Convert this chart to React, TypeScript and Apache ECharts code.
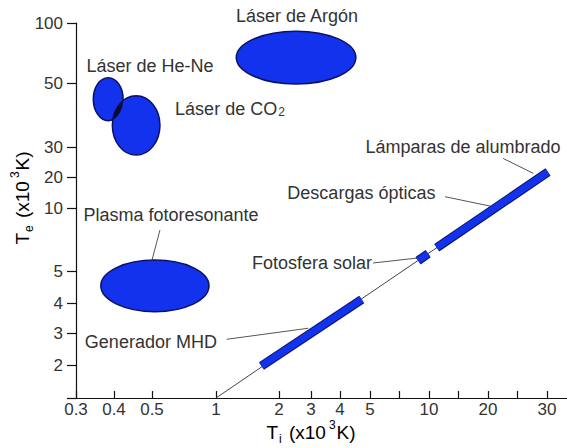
import { useEffect, useRef } from 'react';
import * as echarts from 'echarts';

// Axis ticks (real values) and their labels
const xTickValues = [0.3, 0.4, 0.5, 1, 2, 3, 4, 5, 10, 20, 30];
const xTickLabels = ['0.3', '0.4', '0.5', '1', '2', '3', '4', '5', '10', '20', '30'];
const xMinorTickValues = [7.05, 14.1, 24.5];
const yTickValues = [1, 2, 3, 4, 5, 10, 20, 30, 50, 100];
const yTickLabels = ['', '2', '3', '4', '5', '10', '20', '30', '50', '100'];

// The figure's axes are hand-spaced (not a true log scale): axis units of each tick value
const xScaleUnits = [0, 38, 76, 140, 203, 235, 264, 294, 353, 412, 471];
const xScaleMax = 491;
const yScaleUnits = [0, 33, 65, 95, 127, 190, 221, 251, 315, 375];
const yScaleMax = 375;

// Ellipses: [Ti min, Ti max], [Te min, Te max]  (x10^3 K)
const ellipseNames = ['Láser de Argón', 'Láser de He-Ne', 'Láser de CO2', 'Plasma fotoresonante'];
const ellipseTi = [[1.25, 4.5], [0.342, 0.422], [0.395, 0.545], [0.362, 0.927]];
const ellipseTe = [[49.6, 91], [37, 53.2], [26.9, 45.2], [3.68, 5.64]];

// Te = f(Ti) diagonal and thick bars along it
const lineTi = [1, 30.2];
const lineTe = [1, 21.4];
const barNames = ['Generador MHD', 'Fotosfera solar', 'Descargas / Lámparas'];
const barTi = [[1.65, 4.7], [8.8, 9.9], [10.95, 30.2]];
const barTe = [[1.96, 4.1], [5.6, 6.05], [6.46, 21.4]];

// Annotations
const noteTexts = [
  'Láser de Argón',
  'Láser de He-Ne',
  'Láser de CO{s|2}',
  'Plasma fotoresonante',
  'Fotosfera solar',
  'Descargas ópticas',
  'Lámparas de alumbrado',
  'Generador MHD',
];
const noteTi = [2.51, 0.494, 1.166, 0.614, 5.12, 4.69, 14.9, 1.01];
const noteTe = [108, 60.9, 40.6, 9.26, 5.46, 14.1, 30, 2.69];
const noteAlign = ['center', 'center', 'center', 'center', 'right', 'center', 'center', 'right'];

// Leader lines: [from, to]
const leaderTi = [[0.545, 0.5], [5.18, 8.79], [12.07, 20.28], [22.2, 27.3], [1.125, 2.9]];
const leaderTe = [[7.85, 5.64], [5.46, 5.77], [12.87, 10.45], [25.7, 21.0], [2.77, 3.14]];

const BLUE = '#1232ee';
const NAVY = '#0a1260';
const TEXT = '#333333';
const FONT = '"Liberation Sans", Arial, sans-serif';

function warp(v: number, vals: number[], units: number[]): number {
  let i = 0;
  while (i < vals.length - 2 && v > vals[i + 1]) i++;
  const a = Math.log(vals[i]);
  const b = Math.log(vals[i + 1]);
  return units[i] + ((Math.log(v) - a) / (b - a)) * (units[i + 1] - units[i]);
}
const wx = (v: number) => warp(v, xTickValues, xScaleUnits);
const wy = (v: number) => warp(v, yTickValues, yScaleUnits);

function labelFor(val: number, values: number[], labels: string[], w: (v: number) => number) {
  for (let i = 0; i < values.length; i++) {
    if (Math.abs(w(values[i]) - val) < 0.5) return labels[i];
  }
  return '';
}

export default function App() {
  const ref = useRef<HTMLDivElement>(null);
  useEffect(() => {
    if (!ref.current) return;
    const chart = echarts.init(ref.current, undefined, { renderer: 'svg' });
    const titleRich = {
      b: { fontSize: 19, fontFamily: FONT, color: TEXT, lineHeight: 26 },
      s: { fontSize: 12, fontFamily: FONT, color: TEXT, lineHeight: 12, verticalAlign: 'bottom', padding: [0, 2, 0, 1] },
      p: { fontSize: 12, fontFamily: FONT, color: TEXT, lineHeight: 12, verticalAlign: 'top', padding: [0, 1, 0, 3] },
    };
    const ellipseShape = (api: any, k: number) => {
      const a = api.coord([wx(ellipseTi[k][0]), wy(ellipseTe[k][0])]);
      const b = api.coord([wx(ellipseTi[k][1]), wy(ellipseTe[k][1])]);
      return {
        cx: (a[0] + b[0]) / 2,
        cy: (a[1] + b[1]) / 2,
        rx: Math.abs(b[0] - a[0]) / 2,
        ry: Math.abs(b[1] - a[1]) / 2,
      };
    };
    const option: any = {
      animation: false,
      grid: { left: 76, right: 0, top: 23, bottom: 50, containLabel: false },
      xAxis: {
        type: 'value',
        min: 0,
        max: xScaleMax,
        axisLine: { show: true, lineStyle: { color: '#111', width: 1.2 } },
        axisTick: {
          show: true,
          inside: true,
          length: 7,
          lineStyle: { color: '#111', width: 1.2 },
          customValues: [...xTickValues, ...xMinorTickValues].map(wx),
        },
        axisLabel: {
          show: true,
          margin: 3,
          fontSize: 17,
          fontFamily: FONT,
          color: TEXT,
          customValues: xTickValues.map(wx),
          formatter: (val: number) => labelFor(val, xTickValues, xTickLabels, wx),
        },
        splitLine: { show: false },
      },
      yAxis: {
        type: 'value',
        min: 0,
        max: yScaleMax,
        axisLine: { show: true, lineStyle: { color: '#111', width: 1.2 } },
        axisTick: {
          show: true,
          inside: false,
          length: 9,
          lineStyle: { color: '#111', width: 1.2 },
          customValues: yTickValues.map(wy),
        },
        axisLabel: {
          show: true,
          margin: 13,
          fontSize: 17,
          fontFamily: FONT,
          color: TEXT,
          customValues: yTickValues.map(wy),
          formatter: (val: number) => labelFor(val, yTickValues, yTickLabels, wy),
        },
        splitLine: { show: false },
      },
      graphic: [
        {
          type: 'text',
          x: 311,
          y: 432,
          style: {
            text: '{b|T}{s|i}{b| (x10}{p|3}{b|K)}',
            rich: titleRich,
            align: 'center',
            verticalAlign: 'middle',
            textAlign: 'center',
            textVerticalAlign: 'middle',
          },
        },
        {
          type: 'text',
          x: 22,
          y: 198,
          rotation: Math.PI / 2,
          style: {
            text: '{b|T}{s|e}{b| (x10}{p|3}{b|K)}',
            rich: titleRich,
            align: 'center',
            verticalAlign: 'middle',
            textAlign: 'center',
            textVerticalAlign: 'middle',
          },
        },
      ],
      series: [
        {
          name: 'diagonal',
          type: 'line',
          data: lineTi.map((t, i) => [wx(t), wy(lineTe[i])]),
          symbol: 'none',
          lineStyle: { color: '#444', width: 1 },
          silent: true,
          z: 1,
        },
        {
          name: 'leaders',
          type: 'custom',
          coordinateSystem: 'cartesian2d',
          clip: false,
          silent: true,
          z: 2,
          data: leaderTi.map((t, i) => [wx(t[0]), wy(leaderTe[i][0]), wx(t[1]), wy(leaderTe[i][1])]),
          encode: { x: [0, 2], y: [1, 3] },
          renderItem: (params: any, api: any) => {
            const a = api.coord([api.value(0), api.value(1)]);
            const b = api.coord([api.value(2), api.value(3)]);
            return {
              type: 'line',
              shape: { x1: a[0], y1: a[1], x2: b[0], y2: b[1] },
              style: { stroke: '#555', lineWidth: 1 },
            };
          },
        },
        ...barTi.map((t, i) => ({
          name: barNames[i] + ' outline',
          type: 'line',
          data: [[wx(t[0]), wy(barTe[i][0])], [wx(t[1]), wy(barTe[i][1])]],
          symbol: 'none',
          lineStyle: { color: NAVY, width: 9, cap: 'butt' },
          silent: true,
          z: 3,
        })),
        ...barTi.map((t, i) => ({
          name: barNames[i],
          type: 'line',
          data: [[wx(t[0]), wy(barTe[i][0])], [wx(t[1]), wy(barTe[i][1])]],
          symbol: 'none',
          lineStyle: { color: BLUE, width: 7, cap: 'butt' },
          silent: true,
          z: 4,
        })),
        {
          name: 'regions',
          type: 'custom',
          coordinateSystem: 'cartesian2d',
          clip: false,
          silent: true,
          z: 5,
          data: ellipseTi.map((t, i) => [wx(t[0]), wx(t[1]), wy(ellipseTe[i][0]), wy(ellipseTe[i][1])]),
          encode: { x: [0, 1], y: [2, 3] },
          renderItem: (params: any, api: any) => {
            const k = params.dataIndex;
            const el: any = {
              type: 'ellipse',
              shape: ellipseShape(api, k),
              style: { fill: BLUE, stroke: NAVY, lineWidth: 1.5 },
            };
            if (k === 2) {
              // overlap of He-Ne and CO2 regions drawn dark
              return {
                type: 'group',
                children: [
                  el,
                  {
                    type: 'ellipse',
                    shape: ellipseShape(api, 1),
                    style: { fill: '#0a0a30' },
                    clipPath: { type: 'ellipse', shape: ellipseShape(api, 2) },
                  },
                ],
              };
            }
            return el;
          },
        },
        {
          name: 'notes',
          type: 'custom',
          coordinateSystem: 'cartesian2d',
          clip: false,
          silent: true,
          z: 6,
          data: noteTi.map((t, i) => [wx(t), wy(noteTe[i])]),
          encode: { x: 0, y: 1 },
          renderItem: (params: any, api: any) => {
            const p = api.coord([api.value(0), api.value(1)]);
            const i = params.dataIndex;
            return {
              type: 'text',
              x: p[0],
              y: p[1],
              style: {
                text: noteTexts[i],
                fill: TEXT,
                fontSize: 18,
                fontFamily: FONT,
                align: noteAlign[i],
                verticalAlign: 'middle',
                textAlign: noteAlign[i],
                textVerticalAlign: 'middle',
                rich: {
                  s: { fontSize: 12, fontFamily: FONT, fill: TEXT, color: TEXT, lineHeight: 12, verticalAlign: 'bottom', padding: [0, 0, 0, 1] },
                },
              },
            };
          },
        },
      ],
    };
    chart.setOption(option);
    return () => chart.dispose();
  }, []);
  return (
    <div
      ref={ref}
      style={{ position: 'fixed', left: 0, top: 0, width: 567, height: 448, background: '#fff' }}
    />
  );
}
